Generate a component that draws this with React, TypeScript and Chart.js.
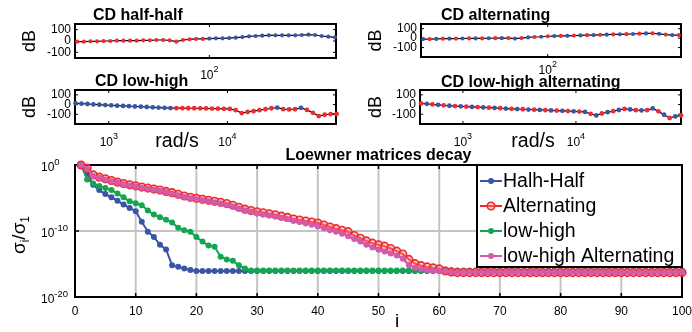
import React, { useEffect, useRef } from 'react';
import { Chart, registerables } from 'chart.js';

Chart.register(...registerables);

const W = 692;
const H = 332;
const FONT = '"Liberation Sans", Arial, Helvetica, sans-serif';
const BLUE = '#3b55a5';
const RED = '#ee2b30';
const GREEN = '#13a651';
const MAGENTA = '#d55aab';

// ---------- CD half-half : log10(rad/s), magnitude (dB), sample set (R/B)
const hhLogW = [1.40, 1.43, 1.46, 1.49, 1.52, 1.55, 1.58, 1.61, 1.64, 1.67, 1.70, 1.73, 1.76, 1.79, 1.82, 1.85, 1.88, 1.91, 1.94, 1.97,
  2.00, 2.03, 2.06, 2.09, 2.12, 2.15, 2.18, 2.21, 2.24, 2.27, 2.30, 2.33, 2.36, 2.39, 2.42, 2.45, 2.48, 2.51, 2.54, 2.57];
const hhDb = [-6, -6, -3, -3, 0, 0, 3, 3, 3, 3, 6, 6, 9, 9, 6, -6, 9, 15, 18, 18,
  21, 24, 24, 26, 29, 35, 41, 44, 47, 50, 50, 50, 50, 50, 53, 56, 53, 44, 38, 32];
const hhSet = 'RRRRRRRRRRRRRRRRRRRRBBBBBBBBBBBBBBBBBBBB';

// ---------- CD alternating
const altLogW = [1.43, 1.46, 1.49, 1.52, 1.55, 1.58, 1.61, 1.64, 1.67, 1.70, 1.73, 1.76, 1.79, 1.82, 1.85, 1.88, 1.91, 1.94, 1.97, 2.00,
  2.03, 2.06, 2.09, 2.12, 2.15, 2.18, 2.21, 2.24, 2.27, 2.30, 2.33, 2.36, 2.39, 2.42, 2.45, 2.48, 2.51, 2.54, 2.57, 2.60];
const altDb = [-9.5, -9.5, -8, -6, -6, -5, -4, -3, -2.5, -2.5, -1, 0, 0, 1, -5, 1, 8, 12, 15, 20,
  22, 24, 25, 27, 29, 31, 33, 35, 37, 39, 41, 42, 44, 47, 50, 51, 46, 38, 33, 31];
const altSet = 'BRBRBRBRBRBRBRBRBRBRBRBRBRBRBRBRBRBRBRBR';

// ---------- CD low-high
const lhLogW = [2.72, 2.77, 2.82, 2.87, 2.92, 2.97, 3.02, 3.07, 3.12, 3.17, 3.22, 3.27, 3.32, 3.37, 3.42, 3.47, 3.52, 3.57, 3.62, 3.67,
  3.72, 3.77, 3.82, 3.87, 3.92, 3.97, 4.02, 4.07, 4.12, 4.17, 4.22, 4.27, 4.32, 4.37, 4.42, 4.47, 4.52, 4.57, 4.62, 4.67,
  4.72, 4.77, 4.82, 4.87, 4.92];
const lhDb = [13, 9, 6, 2, -1, -5, -8, -11, -14, -17, -20, -22, -25, -28, -31, -34, -36, -37, -37, -38,
  -38, -39, -40, -41, -42, -44, -45, -58, -88, -76, -68, -58, -48, -38, -32, -47, -50, -48, -34, -55,
  -85, -118, -105, -98, -96];
const lhSet = 'BBBBBBBBBBBBBBBBBRRRRRRRRRRRRRRRRRBRRRBRRRRRR';

// ---------- CD low-high alternating
const lhaLogW = [2.63, 2.68, 2.73, 2.78, 2.83, 2.88, 2.93, 2.98, 3.03, 3.08, 3.13, 3.18, 3.23, 3.28, 3.33, 3.38, 3.43, 3.48, 3.53, 3.58,
  3.63, 3.68, 3.73, 3.78, 3.83, 3.88, 3.93, 3.98, 4.03, 4.08, 4.13, 4.18, 4.23, 4.28, 4.33, 4.38, 4.43, 4.48, 4.53, 4.58,
  4.63, 4.68, 4.73, 4.78, 4.83, 4.88, 4.93];
const lhaDb = [13, 8, 2, -3, -8, -12, -15, -18, -21, -24, -26, -29, -32, -35, -38, -41, -44, -46, -48, -51,
  -53, -55, -58, -60, -62, -64, -67, -70, -72, -76, -95, -112, -92, -78, -68, -56, -45, -50, -58, -60,
  -58, -40, -70, -105, -138, -122, -112];
const lhaSet = 'RBRBRBRBRBRBRBRBRBRBRBRBRBRBRBRBRBRBRBRBRBRBRBR';

const dbTicks = [-100, 0, 100];

// ---------- Loewner matrices decay : log10(sigma_i / sigma_1), i = 1..100
const decayHalfHalf = [
  0, -1.3, -3.0, -3.8, -4.4, -4.9, -5.4, -6.0, -6.5, -7.0,
  -8.6, -10.1, -10.9, -12.1, -12.8, -15.2, -15.4, -15.7, -15.9, -16.05,
  -16.05, -16.05, -16.05, -16.05, -16.05, -16.05, -16.05, -16.05, -16.05, -16.05,
  -16.05, -16.05, -16.05, -16.05, -16.05, -16.05, -16.05, -16.05, -16.05, -16.05,
  -16.05, -16.05, -16.05, -16.05, -16.05, -16.05, -16.05, -16.05, -16.05, -16.05,
  -16.05, -16.05, -16.05, -16.05, -16.05, -16.05, -16.05, -16.05, -16.05, -16.05,
  -16.05, -16.05, -16.05, -16.05, -16.05, -16.05, -16.05, -16.05, -16.05, -16.05,
  -16.05, -16.05, -16.05, -16.05, -16.05, -16.05, -16.05, -16.05, -16.05, -16.05,
  -16.05, -16.05, -16.05, -16.05, -16.05, -16.05, -16.05, -16.05, -16.05, -16.05,
  -16.05, -16.05, -16.05, -16.05, -16.05, -16.05, -16.05, -16.05, -16.05, -16.05];
const decayAlternating = [
  0, -0.5, -1.5, -1.85, -2.1, -2.35, -2.6, -2.8, -3.0, -3.15,
  -3.35, -3.5, -3.65, -3.8, -4.0, -4.2, -4.45, -4.7, -4.9, -5.05,
  -5.2, -5.35, -5.5, -5.65, -5.85, -6.1, -6.4, -6.7, -6.9, -7.1,
  -7.25, -7.4, -7.55, -7.75, -7.95, -8.2, -8.35, -8.5, -8.65, -8.8,
  -9.1, -9.4, -9.65, -9.9, -10.1, -10.7, -11.1, -11.5, -11.85, -12.1,
  -12.3, -12.65, -13.05, -13.5, -14.3, -14.95, -15.25, -15.45, -15.6, -15.75,
  -16.05, -16.2, -16.3, -16.3, -16.3, -16.3, -16.3, -16.3, -16.3, -16.3,
  -16.3, -16.3, -16.3, -16.3, -16.3, -16.3, -16.3, -16.3, -16.3, -16.3,
  -16.3, -16.3, -16.3, -16.3, -16.3, -16.3, -16.3, -16.3, -16.3, -16.3,
  -16.3, -16.3, -16.3, -16.3, -16.3, -16.3, -16.3, -16.3, -16.3, -16.3];
const decayLowHigh = [
  0, -2.2, -2.8, -3.2, -3.5, -3.8, -4.3, -4.9, -5.5, -5.8,
  -6.1, -6.9, -7.5, -7.9, -8.3, -8.7, -9.5, -9.9, -10.1, -10.9,
  -11.6, -12.2, -12.4, -13.9, -14.3, -14.5, -15.2, -15.7, -16.0, -16.0,
  -16.0, -16.0, -16.0, -16.0, -16.0, -16.0, -16.0, -16.0, -16.0, -16.0,
  -16.0, -16.0, -16.0, -16.0, -16.0, -16.0, -16.0, -16.0, -16.0, -16.0,
  -16.0, -16.0, -16.0, -16.0, -16.0, -16.0, -16.0, -16.0, -16.0, -16.0,
  -16.0, -16.0, -16.0, -16.0, -16.0, -16.0, -16.0, -16.0, -16.0, -16.0,
  -16.0, -16.0, -16.0, -16.0, -16.0, -16.0, -16.0, -16.0, -16.0, -16.0,
  -16.0, -16.0, -16.0, -16.0, -16.0, -16.0, -16.0, -16.0, -16.0, -16.0,
  -16.0, -16.0, -16.0, -16.0, -16.0, -16.0, -16.0, -16.0, -16.0, -16.0];
const decayLowHighAlt = [
  0, -0.6, -1.65, -1.95, -2.2, -2.45, -2.7, -2.9, -3.1, -3.25,
  -3.45, -3.6, -3.75, -3.9, -4.1, -4.3, -4.6, -4.85, -5.05, -5.2,
  -5.35, -5.5, -5.7, -5.85, -6.05, -6.3, -6.6, -6.9, -7.1, -7.35,
  -7.5, -7.65, -7.8, -8.0, -8.2, -8.45, -8.65, -8.85, -9.05, -9.3,
  -9.6, -9.9, -10.1, -10.4, -10.8, -11.2, -11.6, -12.1, -12.5, -12.85,
  -13.1, -13.4, -13.7, -14.2, -15.2, -15.55, -15.75, -15.9, -16.0, -16.05,
  -16.1, -16.2, -16.2, -16.2, -16.2, -16.2, -16.2, -16.2, -16.2, -16.2,
  -16.2, -16.2, -16.2, -16.2, -16.2, -16.2, -16.2, -16.2, -16.2, -16.2,
  -16.2, -16.2, -16.2, -16.2, -16.2, -16.2, -16.2, -16.2, -16.2, -16.2,
  -16.2, -16.2, -16.2, -16.2, -16.2, -16.2, -16.2, -16.2, -16.2, -16.2];

const legendLabels = ['Halh-Half', 'Alternating', 'low-high', 'low-high Alternating'];
const decayXTicks = [0, 10, 20, 30, 40, 50, 60, 70, 80, 90, 100];
const decayYTickExps = [0, -10, -20];

// ---------- helpers
function seg(ctx: CanvasRenderingContext2D, x1: number, y1: number, x2: number, y2: number) {
  ctx.beginPath();
  ctx.moveTo(x1, y1);
  ctx.lineTo(x2, y2);
  ctx.stroke();
}

function pow10(ctx: CanvasRenderingContext2D, exp: string, x: number, y: number, align: 'left' | 'center', baseSize = 12, supSize = 9, rise = 6) {
  ctx.font = `${baseSize}px ${FONT}`;
  const w1 = ctx.measureText('10').width;
  ctx.font = `${supSize}px ${FONT}`;
  const w2 = ctx.measureText(exp).width;
  const x0 = align === 'center' ? x - (w1 + w2) / 2 : x;
  ctx.fillStyle = '#000';
  ctx.textAlign = 'left';
  ctx.textBaseline = 'middle';
  ctx.font = `${baseSize}px ${FONT}`;
  ctx.fillText('10', x0, y);
  ctx.font = `${supSize}px ${FONT}`;
  ctx.fillText(exp, x0 + w1, y - rise);
}

function rotatedText(ctx: CanvasRenderingContext2D, s: string, cx: number, cy: number, size: number) {
  ctx.save();
  ctx.translate(cx, cy);
  ctx.rotate(-Math.PI / 2);
  ctx.font = `${size}px ${FONT}`;
  ctx.fillStyle = '#000';
  ctx.textAlign = 'center';
  ctx.textBaseline = 'middle';
  ctx.fillText(s, 0, 0);
  ctx.restore();
}

type Panel = {
  logW: number[]; db: number[]; sets: string; title: string;
  l: number; r: number; t: number; b: number;
  xMin: number; xMax: number; yMin: number; yMax: number;
  xTickExps: number[]; tickLabelY: number; titleX: number; titleY: number;
  dbX: number; radX: number | null; dot: number;
};

const panels: Panel[] = [
  { logW: hhLogW, db: hhDb, sets: hhSet, title: 'CD half-half', l: 75, r: 336, t: 24, b: 58,
    xMin: 1.39, xMax: 2.575, yMin: -150, yMax: 150, xTickExps: [2], tickLabelY: 76, titleX: 93, titleY: 19.5, dbX: 30, radX: null, dot: 2.1 },
  { logW: altLogW, db: altDb, sets: altSet, title: 'CD alternating', l: 421, r: 681, t: 24, b: 57,
    xMin: 1.42, xMax: 2.61, yMin: -200, yMax: 150, xTickExps: [2], tickLabelY: 71, titleX: 441, titleY: 19.5, dbX: 376, radX: null, dot: 2.1 },
  { logW: lhLogW, db: lhDb, sets: lhSet, title: 'CD low-high', l: 75, r: 336, t: 90, b: 124,
    xMin: 2.715, xMax: 4.915, yMin: -200, yMax: 150, xTickExps: [3, 4], tickLabelY: 143, titleX: 95, titleY: 86, dbX: 30, radX: 177, dot: 2.4 },
  { logW: lhaLogW, db: lhaDb, sets: lhaSet, title: 'CD low-high alternating', l: 420, r: 681, t: 90, b: 124,
    xMin: 2.62, xMax: 4.93, yMin: -200, yMax: 150, xTickExps: [3, 4], tickLabelY: 143, titleX: 441, titleY: 87, dbX: 376, radX: 533, dot: 2.4 },
];

function panelPlugin(p: Panel) {
  return {
    id: 'panelDecor',
    beforeDatasetsDraw(chart: any) {
      const { ctx, chartArea: a } = chart;
      const xs = chart.scales.x;
      const ys = chart.scales.y;
      ctx.save();
      ctx.strokeStyle = '#000';
      ctx.lineWidth = 1;
      p.xTickExps.forEach((e) => {
        const px = xs.getPixelForValue(Math.pow(10, e));
        seg(ctx, px, a.top, px, a.top + 3);
        seg(ctx, px, a.bottom, px, a.bottom - 3);
      });
      dbTicks.forEach((v) => {
        const py = ys.getPixelForValue(v);
        seg(ctx, a.left, py, a.left + 3, py);
        seg(ctx, a.right, py, a.right - 3, py);
      });
      ctx.lineWidth = 2;
      ctx.strokeRect(a.left, a.top, a.right - a.left, a.bottom - a.top);
      ctx.restore();
    },
    afterDraw(chart: any) {
      const { ctx, chartArea: a } = chart;
      const xs = chart.scales.x;
      const ys = chart.scales.y;
      ctx.save();
      ctx.fillStyle = '#000';
      ctx.font = `12px ${FONT}`;
      ctx.textAlign = 'right';
      ctx.textBaseline = 'middle';
      dbTicks.forEach((v) => ctx.fillText(String(v), a.left - 4, ys.getPixelForValue(v)));
      p.xTickExps.forEach((e) => pow10(ctx, String(e), xs.getPixelForValue(Math.pow(10, e)), p.tickLabelY, 'center'));
      ctx.font = `bold 16px ${FONT}`;
      ctx.textAlign = 'left';
      ctx.textBaseline = 'alphabetic';
      ctx.fillText(p.title, p.titleX, p.titleY);
      rotatedText(ctx, 'dB', p.dbX, (a.top + a.bottom) / 2, 18);
      if (p.radX !== null) {
        ctx.font = `19.5px ${FONT}`;
        ctx.textAlign = 'center';
        ctx.textBaseline = 'alphabetic';
        ctx.fillText('rad/s', p.radX, 147);
      }
      ctx.restore();
    },
  };
}

function panelConfig(p: Panel): any {
  const data = p.logW.map((e, k) => ({ x: Math.pow(10, e), y: p.db[k] }));
  const colors = p.sets.split('').map((c) => (c === 'R' ? RED : BLUE));
  return {
    type: 'line',
    data: {
      datasets: [{
        data,
        borderColor: '#000',
        borderWidth: 1.2,
        pointRadius: p.dot,
        pointHoverRadius: p.dot,
        pointBackgroundColor: colors,
        pointBorderColor: colors,
        pointBorderWidth: 0,
        tension: 0,
        clip: false,
      }],
    },
    options: {
      responsive: false,
      animation: false,
      devicePixelRatio: 1,
      events: [],
      layout: { padding: { left: p.l, top: p.t, right: W - p.r, bottom: H - p.b } },
      scales: {
        x: { type: 'logarithmic', display: false, min: Math.pow(10, p.xMin), max: Math.pow(10, p.xMax) },
        y: { type: 'linear', display: false, min: p.yMin, max: p.yMax },
      },
      plugins: { legend: { display: false }, tooltip: { enabled: false }, title: { display: false } },
    },
    plugins: [panelPlugin(p)],
  };
}

const legendStyles = [
  { color: BLUE, r: 3, fill: BLUE, bw: 0 },
  { color: RED, r: 3.8, fill: 'rgba(250,130,130,0.45)', bw: 1.6 },
  { color: GREEN, r: 3, fill: GREEN, bw: 0 },
  { color: MAGENTA, r: 3, fill: MAGENTA, bw: 0 },
];

const decayPlugin = {
  id: 'decayDecor',
  beforeDatasetsDraw(chart: any) {
    const { ctx, chartArea: a } = chart;
    const xs = chart.scales.x;
    const ys = chart.scales.y;
    ctx.save();
    ctx.strokeStyle = '#c4c4c4';
    ctx.lineWidth = 2;
    decayXTicks.forEach((t) => {
      if (t > 0 && t < 100) {
        const px = xs.getPixelForValue(t);
        seg(ctx, px, a.top, px, a.bottom);
      }
    });
    decayYTickExps.forEach((e) => {
      if (e < 0 && e > -20) {
        const py = ys.getPixelForValue(Math.pow(10, e));
        seg(ctx, a.left, py, a.right, py);
      }
    });
    ctx.strokeStyle = '#000';
    ctx.lineWidth = 1.5;
    decayXTicks.forEach((t) => {
      const px = xs.getPixelForValue(t);
      seg(ctx, px, a.top, px, a.top + 4);
      seg(ctx, px, a.bottom, px, a.bottom - 4);
    });
    decayYTickExps.forEach((e) => {
      const py = ys.getPixelForValue(Math.pow(10, e));
      seg(ctx, a.left, py, a.left + 4, py);
      seg(ctx, a.right, py, a.right - 4, py);
    });
    ctx.lineWidth = 2;
    ctx.strokeRect(a.left, a.top, a.right - a.left, a.bottom - a.top);
    ctx.restore();
  },
  afterDraw(chart: any) {
    const { ctx, chartArea: a } = chart;
    const xs = chart.scales.x;
    const ys = chart.scales.y;
    ctx.save();
    ctx.fillStyle = '#000';
    ctx.font = `12px ${FONT}`;
    ctx.textAlign = 'center';
    ctx.textBaseline = 'middle';
    decayXTicks.forEach((t) => ctx.fillText(String(t), xs.getPixelForValue(t), a.bottom + 14.5));
    decayYTickExps.forEach((e) => pow10(ctx, String(e), 41, ys.getPixelForValue(Math.pow(10, e)) + 3, 'left', 12, 9.5, 6));
    // title
    ctx.font = `bold 16px ${FONT}`;
    ctx.textAlign = 'center';
    ctx.textBaseline = 'alphabetic';
    ctx.fillText('Loewner matrices decay', (a.left + a.right) / 2, 159.5);
    // x label
    ctx.font = `19px ${FONT}`;
    ctx.fillText('i', 397, 327);
    // y label sigma_i / sigma_1
    ctx.save();
    ctx.translate(20, 235);
    ctx.rotate(-Math.PI / 2);
    const parts: [string, number, number][] = [['σ', 19, 5], ['i', 12, 9], ['/', 19, 5], ['σ', 19, 5], ['1', 12, 9]];
    let total = 0;
    parts.forEach(([s, sz]) => { ctx.font = `${sz}px ${FONT}`; total += ctx.measureText(s).width; });
    let cx = -total / 2;
    ctx.textAlign = 'left';
    ctx.textBaseline = 'alphabetic';
    parts.forEach(([s, sz, dy]) => {
      ctx.font = `${sz}px ${FONT}`;
      ctx.fillText(s, cx, dy);
      cx += ctx.measureText(s).width;
    });
    ctx.restore();
    // legend
    const lx = a.right - 205;
    const ly = a.top;
    ctx.fillStyle = '#fff';
    ctx.fillRect(lx, ly, 205, 102);
    ctx.strokeStyle = '#000';
    ctx.lineWidth = 2;
    ctx.strokeRect(lx, ly, 205, 102);
    legendLabels.forEach((label, k) => {
      const st = legendStyles[k];
      const y = ly + 16 + 25 * k;
      ctx.strokeStyle = st.color;
      ctx.lineWidth = 2;
      seg(ctx, lx + 3, y, lx + 25, y);
      ctx.beginPath();
      ctx.arc(lx + 14, y, st.r, 0, Math.PI * 2);
      ctx.fillStyle = st.fill;
      ctx.fill();
      if (st.bw > 0) {
        ctx.lineWidth = st.bw;
        ctx.stroke();
      }
      ctx.fillStyle = '#000';
      ctx.font = `19.5px ${FONT}`;
      ctx.textAlign = 'left';
      ctx.textBaseline = 'middle';
      ctx.fillText(label, lx + 26, y + 1);
    });
    ctx.restore();
  },
};

function decaySeries(lg: number[]) {
  return lg.map((v, k) => ({ x: k + 1, y: Math.pow(10, v) }));
}

function decayConfig(): any {
  const common = { borderWidth: 2, tension: 0, clip: false };
  return {
    type: 'line',
    data: {
      datasets: [
        { ...common, label: legendLabels[3], data: decaySeries(decayLowHighAlt), borderColor: MAGENTA,
          pointRadius: 3, pointHoverRadius: 3, pointBackgroundColor: MAGENTA, pointBorderWidth: 0 },
        { ...common, label: legendLabels[1], data: decaySeries(decayAlternating), borderColor: RED,
          pointRadius: 3.8, pointHoverRadius: 3.8, pointBackgroundColor: 'rgba(250,130,130,0.45)', pointBorderColor: RED, pointBorderWidth: 1.6 },
        { ...common, label: legendLabels[2], data: decaySeries(decayLowHigh), borderColor: GREEN,
          pointRadius: 3, pointHoverRadius: 3, pointBackgroundColor: GREEN, pointBorderWidth: 0 },
        { ...common, label: legendLabels[0], data: decaySeries(decayHalfHalf), borderColor: BLUE,
          pointRadius: 3, pointHoverRadius: 3, pointBackgroundColor: BLUE, pointBorderWidth: 0 },
      ],
    },
    options: {
      responsive: false,
      animation: false,
      devicePixelRatio: 1,
      events: [],
      layout: { padding: { left: 75, top: 165, right: W - 682, bottom: H - 297 } },
      scales: {
        x: { type: 'linear', display: false, min: 0, max: 100 },
        y: { type: 'logarithmic', display: false, min: 1e-20, max: 1 },
      },
      plugins: { legend: { display: false }, tooltip: { enabled: false }, title: { display: false } },
    },
    plugins: [decayPlugin],
  };
}

export default function App() {
  const r0 = useRef<HTMLCanvasElement>(null);
  const r1 = useRef<HTMLCanvasElement>(null);
  const r2 = useRef<HTMLCanvasElement>(null);
  const r3 = useRef<HTMLCanvasElement>(null);
  const r4 = useRef<HTMLCanvasElement>(null);
  const refs = [r0, r1, r2, r3, r4];

  useEffect(() => {
    const charts: Chart[] = [];
    panels.forEach((p, i) => {
      const c = refs[i].current;
      if (c) charts.push(new Chart(c, panelConfig(p)));
    });
    if (r4.current) charts.push(new Chart(r4.current, decayConfig()));
    return () => charts.forEach((c) => c.destroy());
  }, []);

  return (
    <div style={{ position: 'fixed', left: 0, top: 0, width: W, height: H, background: '#fff', overflow: 'hidden' }}>
      {refs.map((r, i) => (
        <canvas key={i} ref={r} width={W} height={H}
          style={{ position: 'absolute', left: 0, top: 0, width: W, height: H }} />
      ))}
    </div>
  );
}
